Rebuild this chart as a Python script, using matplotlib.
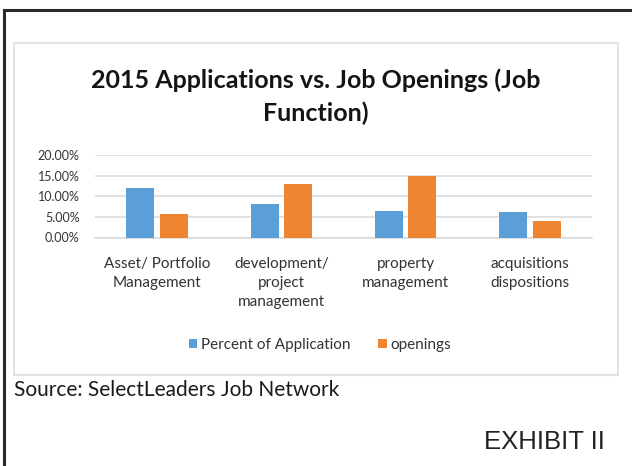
import numpy as np
import matplotlib.pyplot as plt
from matplotlib.patches import Rectangle
from matplotlib.lines import Line2D
from matplotlib.ticker import FuncFormatter

# job function categories and the two series (percent)
categories = ['Asset/ Portfolio\nManagement', 'development/\nproject\nmanagement',
              'property\nmanagement', 'acquisitions\ndispositions']
applications = [12.0, 8.1, 6.5, 6.2]
openings = [5.8, 12.9, 15.0, 3.9]
series_names = ['Percent of Application', 'openings']

W, H = 632, 466
BLUE = '#5B9FD8'
ORANGE = '#EE8532'
GRID = '#D9D9D9'
TXT = '#333333'
FONT = ['Lato', 'DejaVu Sans']

plt.rcParams['font.family'] = FONT

fig = plt.figure(figsize=(W / 100, H / 100), dpi=100, facecolor='white')


def fx(x):
    return x / W


def fy(y):
    return 1 - y / H


# page frame (top and left rules)
fig.add_artist(Line2D([fx(3.5), 1], [fy(9.5), fy(9.5)], color='#2a2a2a', lw=2.2))
fig.add_artist(Line2D([fx(3.5), fx(3.5)], [fy(9.5), 0], color='#2a2a2a', lw=2.2))

# chart area box
fig.add_artist(Rectangle((fx(14), fy(375)), fx(618) - fx(14), fy(43) - fy(375),
                         fill=False, edgecolor='#E3E3E3', lw=1.5))

ax = fig.add_axes([fx(95), fy(237.5), fx(592) - fx(95), fy(155) - fy(237.5)])
x = np.arange(len(categories))
w = 0.225
ax.bar(x - 0.135, applications, w, color=BLUE, zorder=3, label=series_names[0])
ax.bar(x + 0.135, openings, w, color=ORANGE, zorder=3, label=series_names[1])

ax.set_xlim(-0.5, len(categories) - 0.5)
ax.set_ylim(0, 20)
ax.set_yticks([0, 5, 10, 15, 20])
ax.yaxis.set_major_formatter(FuncFormatter(lambda v, p: f'{v:.2f}%'))
ax.grid(axis='y', color=GRID, lw=1.1, zorder=0)
ax.set_xticks(x)
ax.set_xticklabels(categories, fontsize=11, color=TXT, linespacing=1.45, va='top')
ax.tick_params(axis='x', length=0, pad=14)
ax.tick_params(axis='y', length=0, pad=11, labelsize=9, labelcolor=TXT)
for s in ['top', 'right', 'left']:
    ax.spines[s].set_visible(False)
ax.spines['bottom'].set_color(GRID)
ax.spines['bottom'].set_linewidth(1.1)

fig.text(fx(316), fy(80), '2015 Applications vs. Job Openings (Job', ha='center', va='center',
         fontsize=18, fontweight='bold', color='#141414')
fig.text(fx(316), fy(113), 'Function)', ha='center', va='center',
         fontsize=18, fontweight='bold', color='#141414')

leg = fig.legend(loc='center', bbox_to_anchor=(fx(320), fy(345)), ncol=2, frameon=False,
                 fontsize=11, handlelength=0.55, handleheight=0.55, handletextpad=0.25,
                 columnspacing=1.8)
for t in leg.get_texts():
    t.set_color(TXT)

fig.text(fx(14), fy(390), 'Source: SelectLeaders Job Network', ha='left', va='center',
         fontsize=15, color='#1a1a1a')
fig.text(fx(605), fy(442), 'EXHIBIT II', ha='right', va='center', fontsize=18.5,
         color='#222222', family=['Liberation Sans', 'DejaVu Sans'])

fig.savefig('out.png', dpi=100, facecolor='white')
